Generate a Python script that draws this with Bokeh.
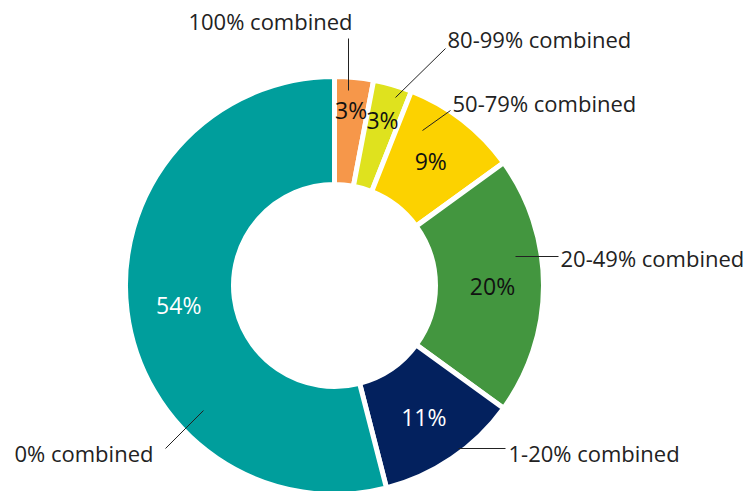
import numpy as np
from bokeh.plotting import figure
from bokeh.models import Range1d, ColumnDataSource
from bokeh.core.properties import value
from bokeh.embed import file_html
from bokeh.resources import INLINE

# ---- data ----
categories = ["100% combined", "80-99% combined", "50-79% combined",
              "20-49% combined", "1-20% combined", "0% combined"]
shares = [3, 3, 9, 20, 11, 54]
pct_labels = ["3%", "3%", "9%", "20%", "11%", "54%"]
colors = ["#F6974A", "#DFE21E", "#FCD200", "#43963F", "#03215E", "#009E9C"]
pct_text_colors = ["#111111", "#111111", "#111111", "#111111", "#FFFFFF", "#FFFFFF"]

# ---- layout (screen-like coordinates; y measured from the top) ----
W, H = 756, 491
cx, cy = 334, 285          # donut centre (top-down y)
r_in, r_out = 101, 209
pct_radius = [176, 172, 157, 158, 159, 157]
label_pos = [(270, 20), (447, 38), (452, 102), (560, 257), (508, 452), (14, 452)]
label_align = ["center", "left", "left", "left", "left", "left"]
leader = [((348, 38), (348, 90)), ((445, 48), (395, 97)), ((450, 110), (422, 130)),
          ((515, 256), (558, 256)), ((458, 448), (505, 448)), ((165, 448), (203, 410))]

def fy(y):
    return H - y

shares_arr = np.array(shares, dtype=float)
frac = shares_arr / shares_arr.sum()
cum = np.concatenate([[0], np.cumsum(frac)])
start = np.pi / 2 - 2 * np.pi * cum[:-1]
end = np.pi / 2 - 2 * np.pi * cum[1:]
mid = (start + end) / 2

src = ColumnDataSource(dict(start=start, end=end, color=colors))

p = figure(width=W, height=H, output_backend="svg", toolbar_location=None,
           x_range=Range1d(0, W), y_range=Range1d(0, H), min_border=0,
           outline_line_color=None)
p.axis.visible = False
p.grid.visible = False

p.annular_wedge(x=cx, y=fy(cy), inner_radius=r_in, outer_radius=r_out,
                start_angle="start", end_angle="end", direction="clock",
                fill_color="color", line_color="white", line_width=5, source=src)

# percentage labels
px = [cx + r * np.cos(a) for r, a in zip(pct_radius, mid)]
py = [fy(cy) + r * np.sin(a) for r, a in zip(pct_radius, mid)]
p.text(x=px, y=py, text=pct_labels, text_color=pct_text_colors,
       text_align="center", text_baseline="middle",
       text_font=value("Open Sans"), text_font_size="23px")

# leader lines
for (a, b) in leader:
    p.line(x=[a[0], b[0]], y=[fy(a[1]), fy(b[1])], line_color="#222222", line_width=1)

# category labels
for lab, (lx, ly), al in zip(categories, label_pos, label_align):
    p.text(x=[lx], y=[fy(ly)], text=[lab], text_align=al, text_baseline="middle",
           text_color="#222222", text_font=value("Open Sans"), text_font_size="22px")

open("out.html", "w").write(file_html(p, INLINE))
